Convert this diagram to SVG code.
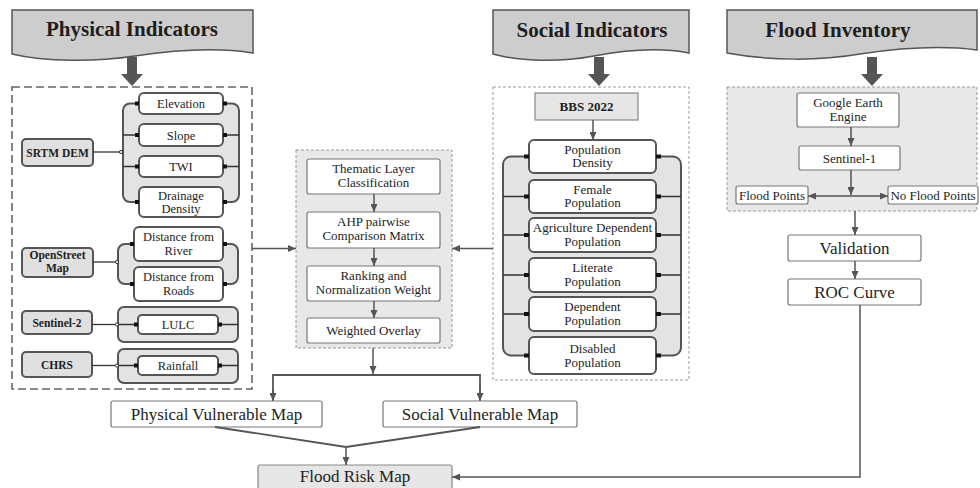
<svg xmlns="http://www.w3.org/2000/svg" width="980" height="488" viewBox="0 0 980 488">
<defs>
<marker id="ah" markerUnits="userSpaceOnUse" markerWidth="8" markerHeight="7" refX="8" refY="3.5" orient="auto">
<path d="M0,0 L8,3.5 L0,7 z" fill="#555"/>
</marker>
<style>
text{font-family:"Liberation Serif","Times New Roman",serif;fill:#1e1e1e;text-anchor:middle}
.ban{fill:#cdcdcd;stroke:#555;stroke-width:1.5}
.bt{font-size:21px;font-weight:bold}
.fat{fill:#555}
.dash1{fill:none;stroke:#666;stroke-width:1.6;stroke-dasharray:8 4}
.dash2{fill:none;stroke:#999;stroke-width:1;stroke-dasharray:3 2}
.dash2g{fill:#e8e8e8;stroke:#999;stroke-width:1;stroke-dasharray:3 2}
.src{fill:#e0e0e0;stroke:#555;stroke-width:2}
.srct{font-size:11.5px;font-weight:bold}
.brk{fill:#e3e3e3;stroke:#555;stroke-width:2}
.cb{fill:#fff;stroke:#555;stroke-width:2}
.ct{font-size:12.5px}
.st{font-size:13px}
.wb{fill:#fff;stroke:#777;stroke-width:1.2}
.gb{fill:#e6e6e6;stroke:#888;stroke-width:1.2}
.sq{fill:#111}
.ln{fill:none;stroke:#333;stroke-width:1.3}
.cn{fill:none;stroke:#555;stroke-width:1.8}
.cnt{fill:none;stroke:#555;stroke-width:1.5;marker-end:url(#ah)}
.big{font-size:17px}
</style>
</defs>

<!-- Banners -->
<g id="physical-indicators">
<path class="ban" d="M12,10 H253 V53 C215,47 175,50 135,56 C95,62 45,62 12,54 Z"/>
<text class="bt" x="132" y="36">Physical Indicators</text>
<path class="fat" d="M127,57 H137 V74 H143 L132,86 L121,74 H127 Z"/>
</g>
<g id="social-indicators">
<path class="ban" d="M493,10 H689 V53 C658,47 626,50 594,56 C562,62 522,62 493,54 Z"/>
<text class="bt" x="592" y="37">Social Indicators</text>
<path class="fat" d="M594,57 H604 V74 H610 L599,86 L588,74 H594 Z"/>
</g>
<g id="flood-inventory">
<path class="ban" d="M727,10 H977 V50 C940,45 900,48 860,54 C820,61 770,61 727,53 Z"/>
<text class="bt" x="838" y="37">Flood Inventory</text>
<path class="fat" d="M867,57 H877 V74 H883 L872,86 L861,74 H867 Z"/>
</g>

<!-- Panels -->
<g id="physical-panel"><rect class="dash1" x="12" y="87" width="240" height="302"/></g>
<g id="analysis-panel"><rect class="dash2g" x="296" y="150" width="156" height="198"/></g>
<g id="social-panel"><rect class="dash2" x="493" y="87" width="196" height="293"/></g>
<g id="flood-panel"><rect class="dash2g" x="727" y="87" width="250" height="124"/></g>

<!-- SRTM DEM group -->
<g id="srtm-dem">
<rect class="src" x="22" y="139" width="71" height="27" rx="4"/>
<text class="srct" x="57.5" y="156.5">SRTM DEM</text>
</g>
<g id="srtm-bracket">
<rect class="brk" x="123" y="103.5" width="116" height="98.5" rx="7"/>
</g>
<g id="elevation"><rect class="cb" x="139" y="93" width="84" height="21" rx="5"/><text class="ct" x="181" y="108">Elevation</text></g>
<g id="slope"><rect class="cb" x="139" y="124" width="84" height="22" rx="5"/><text class="ct" x="181" y="139.5">Slope</text></g>
<g id="twi"><rect class="cb" x="139" y="156" width="84" height="21" rx="5"/><text class="ct" x="181" y="171">TWI</text></g>
<g id="drainage-density"><rect class="cb" x="139" y="187" width="84" height="30" rx="5"/><text class="ct" x="181" y="200">Drainage</text><text class="ct" x="181" y="213">Density</text></g>

<!-- OpenStreet Map group -->
<g id="openstreet-map">
<rect class="src" x="22" y="248" width="71" height="29" rx="4"/>
<text class="srct" x="57.5" y="259">OpenStreet</text>
<text class="srct" x="57.5" y="272">Map</text>
</g>
<g id="osm-bracket"><rect class="brk" x="118" y="244" width="120" height="40" rx="7"/></g>
<g id="distance-river"><rect class="cb" x="134" y="227" width="89" height="34" rx="5"/><text class="ct" x="178.5" y="241">Distance from</text><text class="ct" x="178.5" y="255">River</text></g>
<g id="distance-roads"><rect class="cb" x="134" y="267" width="89" height="34" rx="5"/><text class="ct" x="178.5" y="281">Distance from</text><text class="ct" x="178.5" y="295">Roads</text></g>

<!-- Sentinel-2 group -->
<g id="sentinel-2">
<rect class="src" x="22" y="311" width="70" height="23" rx="4"/>
<text class="srct" x="57" y="326.5">Sentinel-2</text>
</g>
<g id="s2-bracket"><rect class="brk" x="118" y="307" width="120" height="35" rx="6"/></g>
<g id="lulc"><rect class="cb" x="138" y="315" width="80" height="19" rx="4"/><text class="ct" x="178" y="329">LULC</text></g>

<!-- CHRS group -->
<g id="chrs">
<rect class="src" x="22" y="352" width="70" height="25" rx="4"/>
<text class="srct" x="57" y="368.5">CHRS</text>
</g>
<g id="chrs-bracket"><rect class="brk" x="118" y="349" width="120" height="34" rx="6"/></g>
<g id="rainfall"><rect class="cb" x="138" y="356" width="80" height="19" rx="4"/><text class="ct" x="178" y="370">Rainfall</text></g>

<!-- Analysis boxes -->
<g id="thematic"><rect class="wb" x="307" y="159" width="133" height="35" rx="2"/><text class="st" x="373.5" y="173">Thematic Layer</text><text class="st" x="373.5" y="187">Classification</text></g>
<g id="ahp"><rect class="wb" x="307" y="212" width="133" height="36" rx="2"/><text class="st" x="373.5" y="226">AHP pairwise</text><text class="st" x="373.5" y="240">Comparison Matrix</text></g>
<g id="ranking"><rect class="wb" x="307" y="266" width="133" height="35" rx="2"/><text class="st" x="373.5" y="280">Ranking and</text><text class="st" x="373.5" y="294">Normalization Weight</text></g>
<g id="weighted-overlay"><rect class="wb" x="307" y="318" width="133" height="25" rx="2"/><text class="st" x="373.5" y="335">Weighted Overlay</text></g>

<!-- Social -->
<g id="bbs-2022"><rect class="gb" x="535" y="93" width="103" height="27"/><text class="st" x="586.5" y="111" font-weight="bold">BBS 2022</text></g>
<g id="social-bracket"><rect class="brk" x="503" y="156.5" width="178" height="199" rx="8"/></g>
<g id="population-density"><rect class="cb" x="529" y="140" width="127" height="33" rx="5"/><text class="st" x="592.5" y="153.5">Population</text><text class="st" x="592.5" y="167">Density</text></g>
<g id="female-population"><rect class="cb" x="529" y="180" width="127" height="33" rx="5"/><text class="st" x="592.5" y="193.5">Female</text><text class="st" x="592.5" y="207">Population</text></g>
<g id="agri-population"><rect class="cb" x="529" y="218" width="127" height="34" rx="5"/><text class="st" x="592.5" y="232">Agriculture Dependent</text><text class="st" x="592.5" y="246">Population</text></g>
<g id="literate-population"><rect class="cb" x="529" y="258" width="127" height="34" rx="5"/><text class="st" x="592.5" y="272">Literate</text><text class="st" x="592.5" y="286">Population</text></g>
<g id="dependent-population"><rect class="cb" x="529" y="297" width="127" height="34" rx="5"/><text class="st" x="592.5" y="311">Dependent</text><text class="st" x="592.5" y="325">Population</text></g>
<g id="disabled-population"><rect class="cb" x="529" y="337" width="127" height="37" rx="5"/><text class="st" x="592.5" y="352.5">Disabled</text><text class="st" x="592.5" y="367">Population</text></g>

<!-- Flood inventory -->
<g id="gee"><rect class="wb" x="797" y="93" width="102" height="34" rx="2"/><text class="st" x="848" y="107">Google Earth</text><text class="st" x="848" y="121">Engine</text></g>
<g id="sentinel-1"><rect class="wb" x="799" y="146" width="101" height="24" rx="2"/><text class="st" x="849.5" y="162.5">Sentinel-1</text></g>
<g id="flood-points"><rect class="wb" x="736" y="186" width="72" height="18" rx="2"/><text class="st" x="772" y="199.5">Flood Points</text></g>
<g id="no-flood-points"><rect class="wb" x="888" y="186" width="90" height="18" rx="2"/><text class="st" x="933" y="199.5">No Flood Points</text></g>
<g id="validation"><rect class="wb" x="788" y="235" width="133" height="26" rx="2"/><text class="big" x="854.5" y="253.5">Validation</text></g>
<g id="roc-curve"><rect class="wb" x="788" y="279" width="133" height="26" rx="2"/><text class="big" x="854.5" y="297.5">ROC Curve</text></g>

<!-- Outputs -->
<g id="physical-vulnerable-map"><rect class="wb" x="111" y="401" width="211" height="26" rx="2"/><text class="big" x="216.5" y="419.5">Physical Vulnerable Map</text></g>
<g id="social-vulnerable-map"><rect class="wb" x="383" y="401" width="194" height="26" rx="2"/><text class="big" x="480" y="419.5">Social Vulnerable Map</text></g>
<g id="flood-risk-map"><rect class="gb" x="258" y="465" width="194" height="24" rx="2"/><text class="big" x="355" y="482">Flood Risk Map</text></g>

<!-- Connectors -->
<g id="connectors">
<!-- SRTM -->
<line class="ln" x1="93" y1="152" x2="119.5" y2="152"/>
<circle cx="121" cy="152" r="1.6" fill="#fff" stroke="#333" stroke-width="1"/>
<path class="ln" d="M123,135 H139 M123,166.5 H139 M223,135 H239 M223,166.5 H239"/>
<rect class="sq" x="135" y="101.5" width="4" height="4"/><rect class="sq" x="223" y="101.5" width="4" height="4"/>
<rect class="sq" x="135" y="133" width="4" height="4"/><rect class="sq" x="223" y="133" width="4" height="4"/>
<rect class="sq" x="135" y="164.5" width="4" height="4"/><rect class="sq" x="223" y="164.5" width="4" height="4"/>
<rect class="sq" x="135" y="200" width="4" height="4"/><rect class="sq" x="223" y="200" width="4" height="4"/>
<!-- OSM -->
<line class="ln" x1="93" y1="262" x2="115.5" y2="262"/>
<circle cx="117" cy="262" r="1.6" fill="#fff" stroke="#333" stroke-width="1"/>
<rect class="sq" x="130" y="242" width="4" height="4"/><rect class="sq" x="223" y="242" width="4" height="4"/>
<rect class="sq" x="130" y="282" width="4" height="4"/><rect class="sq" x="223" y="282" width="4" height="4"/>
<!-- Sentinel-2 -->
<line class="ln" x1="92" y1="324.5" x2="115.5" y2="324.5"/>
<circle cx="117" cy="324.5" r="1.6" fill="#fff" stroke="#333" stroke-width="1"/>
<path class="ln" d="M118.5,324.5 H138 M218,324.5 H238"/>
<rect class="sq" x="134" y="322.5" width="4" height="4"/><rect class="sq" x="218" y="322.5" width="4" height="4"/>
<!-- CHRS -->
<line class="ln" x1="92" y1="365.5" x2="115.5" y2="365.5"/>
<circle cx="117" cy="365.5" r="1.6" fill="#fff" stroke="#333" stroke-width="1"/>
<path class="ln" d="M118.5,365.5 H138 M218,365.5 H238"/>
<rect class="sq" x="134" y="363.5" width="4" height="4"/><rect class="sq" x="218" y="363.5" width="4" height="4"/>
<!-- Social bracket -->
<path class="ln" d="M503,196.5 H529 M503,235 H529 M503,275 H529 M503,314 H529 M656,196.5 H681 M656,235 H681 M656,275 H681 M656,314 H681"/>
<rect class="sq" x="524" y="154.5" width="5" height="4"/><rect class="sq" x="656" y="154.5" width="5" height="4"/>
<rect class="sq" x="524" y="194.5" width="5" height="4"/><rect class="sq" x="656" y="194.5" width="5" height="4"/>
<rect class="sq" x="524" y="233" width="5" height="4"/><rect class="sq" x="656" y="233" width="5" height="4"/>
<rect class="sq" x="524" y="273" width="5" height="4"/><rect class="sq" x="656" y="273" width="5" height="4"/>
<rect class="sq" x="524" y="312" width="5" height="4"/><rect class="sq" x="656" y="312" width="5" height="4"/>
<rect class="sq" x="524" y="353.5" width="5" height="4"/><rect class="sq" x="656" y="353.5" width="5" height="4"/>
<line class="cnt" x1="593" y1="120" x2="593" y2="140"/>
<!-- Into analysis panel -->
<line class="cnt" x1="252" y1="248.5" x2="296" y2="248.5"/>
<line class="cnt" x1="493" y1="248.5" x2="452" y2="248.5"/>
<line class="cnt" x1="374" y1="194" x2="374" y2="212"/>
<line class="cnt" x1="374" y1="248" x2="374" y2="266"/>
<line class="cnt" x1="374" y1="301" x2="374" y2="318"/>
<!-- Outputs -->
<line class="cnt" x1="373" y1="348" x2="373" y2="374"/>
<path class="cn" d="M273,400 V375 H480 V400"/>
<line class="cnt" x1="273" y1="390" x2="273" y2="401"/>
<line class="cnt" x1="480" y1="390" x2="480" y2="401"/>
<path class="cn" d="M215,427 L346,447 L480,427"/>
<line class="cnt" x1="346" y1="447" x2="346" y2="465"/>
<!-- Flood inventory -->
<line class="cnt" x1="851" y1="127" x2="851" y2="146"/>
<line class="cnt" x1="851" y1="170" x2="851" y2="195"/>
<line class="cnt" x1="850" y1="196" x2="808" y2="196"/>
<line class="cnt" x1="850" y1="196" x2="888" y2="196"/>
<line class="cnt" x1="855" y1="211" x2="855" y2="235"/>
<line class="cnt" x1="855" y1="261" x2="855" y2="279"/>
<path class="cnt" d="M860,305 V477 H452"/>
</g>
</svg>
